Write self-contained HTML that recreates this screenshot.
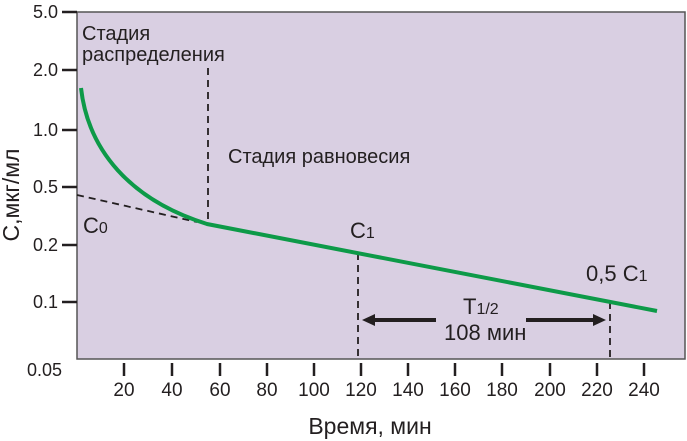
<!DOCTYPE html>
<html><head><meta charset="utf-8"><style>body{margin:0;background:#fff}svg{display:block}text{font-family:"Liberation Sans",sans-serif;fill:#231f20}</style></head><body>
<svg width="687" height="441" viewBox="0 0 687 441">
<rect x="77" y="12" width="608" height="347" fill="#d9cfe2" stroke="#555" stroke-width="1.5"/>
<g stroke="#231f20" stroke-width="2.5">
<line x1="62" y1="12" x2="77" y2="12"/><line x1="62" y1="70" x2="77" y2="70"/><line x1="62" y1="130" x2="77" y2="130"/><line x1="62" y1="187" x2="77" y2="187"/><line x1="62" y1="245" x2="77" y2="245"/><line x1="62" y1="302" x2="77" y2="302"/>
<line x1="124" y1="363" x2="124" y2="376"/><line x1="172" y1="363" x2="172" y2="376"/><line x1="220" y1="363" x2="220" y2="376"/><line x1="267" y1="363" x2="267" y2="376"/><line x1="314" y1="363" x2="314" y2="376"/><line x1="361" y1="363" x2="361" y2="376"/><line x1="408" y1="363" x2="408" y2="376"/><line x1="455" y1="363" x2="455" y2="376"/><line x1="502" y1="363" x2="502" y2="376"/><line x1="550" y1="363" x2="550" y2="376"/><line x1="597" y1="363" x2="597" y2="376"/><line x1="644" y1="363" x2="644" y2="376"/>
</g>
<g font-size="18" text-anchor="end"><text x="58" y="18">5.0</text><text x="58" y="76">2.0</text><text x="58" y="136">1.0</text><text x="58" y="193">0.5</text><text x="58" y="251">0.2</text><text x="58" y="308">0.1</text><text x="62" y="376">0.05</text></g>
<g font-size="19" text-anchor="middle"><text x="124" y="396">20</text><text x="172" y="396">40</text><text x="220" y="396">60</text><text x="267" y="396">80</text><text x="314" y="396">100</text><text x="361" y="396">120</text><text x="408" y="396">140</text><text x="455" y="396">160</text><text x="502" y="396">180</text><text x="550" y="396">200</text><text x="597" y="396">220</text><text x="644" y="396">240</text></g>
<text x="370" y="434" font-size="23" text-anchor="middle">Время, мин</text>
<text transform="translate(19,195) rotate(-90)" font-size="23" text-anchor="middle">C,мкг/мл</text>
<g stroke="#231f20" stroke-width="1.8" stroke-dasharray="7,5" fill="none">
<line x1="77" y1="195" x2="197" y2="222"/><line x1="208" y1="68" x2="208" y2="222"/><line x1="358" y1="253" x2="358" y2="359"/><line x1="610" y1="302" x2="610" y2="359"/>
</g>
<path d="M81,88 C88,150 130,200 207,224 L657,311" stroke="#0d9a48" stroke-width="4" fill="none"/>
<g stroke="#231f20" stroke-width="4"><line x1="372" y1="320" x2="436" y2="320"/><line x1="526" y1="320" x2="598" y2="320"/></g>
<polygon points="362,320 375,314 375,326" fill="#231f20"/><polygon points="606,320 593,314 593,326" fill="#231f20"/>
<g font-size="20"><text x="82" y="40">Стадия</text><text x="82" y="61">распределения</text><text x="228" y="163">Стадия равновесия</text></g>
<text x="83" y="233" font-size="22">C<tspan font-size="16">0</tspan></text>
<text x="350" y="238" font-size="22">C<tspan font-size="16">1</tspan></text>
<text x="586" y="281" font-size="22">0,5 C<tspan font-size="16">1</tspan></text>
<text x="463" y="314" font-size="22">T<tspan font-size="16">1/2</tspan></text>
<text x="444" y="340" font-size="22">108 мин</text>
</svg></body></html>
